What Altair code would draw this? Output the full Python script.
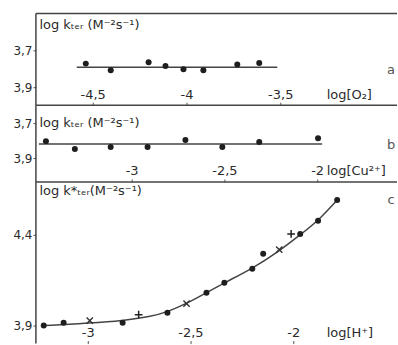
import altair as alt
import pandas as pd

FONT = "DejaVu Sans"
INK = "#2b2b2b"
FRAME = "#444"

# ---- panel a : log k_ter vs log[O2]
a_x = [-4.537, -4.404, -4.202, -4.112, -4.016, -3.910, -3.729, -3.612]
a_y = [3.772, 3.808, 3.765, 3.785, 3.803, 3.808, 3.777, 3.769]
a_fit_x = [-4.585, -3.516]
a_fit_y = [3.792, 3.792]

# ---- panel b : log k_ter vs log[Cu2+]
b_x = [-3.462, -3.306, -3.113, -2.914, -2.710, -2.511, -2.312, -1.995]
b_y = [3.803, 3.848, 3.837, 3.837, 3.797, 3.837, 3.808, 3.786]
b_fit_x = [-3.500, -1.973]
b_fit_y = [3.820, 3.820]

# ---- panel c : log k*_ter vs log[H+]
c_dot_x = [-3.214, -3.117, -2.830, -2.612, -2.422, -2.335, -2.199, -2.146, -1.966, -1.879, -1.786]
c_dot_y = [3.900, 3.916, 3.916, 3.971, 4.081, 4.136, 4.213, 4.296, 4.405, 4.477, 4.592]
c_cross_x = [-2.990, -2.519, -2.068]
c_cross_y = [3.927, 4.021, 4.318]
c_plus_x = [-2.752, -2.010]
c_plus_y = [3.960, 4.405]
c_fit_x = [-3.214, -2.985, -2.830, -2.694, -2.612, -2.519, -2.422, -2.335, -2.199, -2.068, -1.966, -1.879, -1.786]
c_fit_y = [3.900, 3.914, 3.927, 3.949, 3.975, 4.021, 4.081, 4.136, 4.214, 4.310, 4.400, 4.477, 4.592]

W = 363
COMMA = "replace(toString(datum.value), '.', ',')"


def xaxis(values, title):
    return alt.Axis(values=values, labelExpr=COMMA, orient="bottom", offset=-3,
                    domain=False, grid=False, ticks=True, tickSize=3, tickColor="#555",
                    labelBaseline="bottom", labelPadding=-4, labelFontSize=13,
                    labelColor=INK, labelFont=FONT,
                    title=title, titleX=291, titleY=-1, titleAngle=0, titleAlign="left",
                    titleBaseline="bottom", titleFontWeight="normal", titleFontSize=13,
                    titleColor=INK, titleFont=FONT)


def yaxis(values, title, ty):
    return alt.Axis(values=values, labelExpr=COMMA, orient="left",
                    domain=False, grid=False, ticks=True, tickSize=3, tickColor="#555",
                    labelPadding=1, labelFontSize=12, labelColor=INK, labelFont=FONT,
                    title=title, titleX=3, titleY=ty, titleAngle=0, titleAlign="left",
                    titleBaseline="alphabetic", titleFontWeight="normal", titleFontSize=13,
                    titleColor=INK, titleFont=FONT)


def panel(h, xdom, ydom, yrev, xax, yax, pts, fit, letter, ly, curve="linear"):
    xs = alt.Scale(domain=xdom, nice=False, zero=False)
    ys = alt.Scale(domain=ydom, nice=False, zero=False, reverse=yrev)
    fit_df = pd.DataFrame({"x": fit[0], "y": fit[1]})
    line = alt.Chart(fit_df).mark_line(color="#444", strokeWidth=1.5, interpolate=curve).encode(
        x=alt.X("x:Q", scale=xs, axis=xax), y=alt.Y("y:Q", scale=ys, axis=yax))
    layers = [line]
    for (px, py, kind) in pts:
        df = pd.DataFrame({"x": px, "y": py})
        if kind == "dot":
            m = alt.Chart(df).mark_point(shape="circle", filled=True, size=36, color="#1e1e1e", opacity=1)
        elif kind == "cross":
            m = alt.Chart(df).mark_point(shape="M-1,-1L1,1M1,-1L-1,1", filled=False, size=40,
                                         stroke="#333", strokeWidth=1.4, opacity=1)
        else:
            m = alt.Chart(df).mark_point(shape="M-1,0L1,0M0,-1L0,1", filled=False, size=60,
                                         stroke="#222", strokeWidth=1.5, opacity=1)
        layers.append(m.encode(x=alt.X("x:Q", scale=xs, axis=xax), y=alt.Y("y:Q", scale=ys, axis=yax)))
    one = pd.DataFrame({"t": [letter]})
    top_rule = alt.Chart(one).mark_rule(color=FRAME, strokeWidth=1.5).encode(
        x=alt.value(0), x2=alt.value(W - 1), y=alt.value(0))
    left_rule = alt.Chart(one).mark_rule(color=FRAME, strokeWidth=1.5).encode(
        x=alt.value(0), y=alt.value(0), y2=alt.value(h))
    lab = alt.Chart(one).mark_text(
        font=FONT, fontSize=13, color="#555", align="center", baseline="middle").encode(
        x=alt.value(356), y=alt.value(ly), text="t:N")
    layers += [top_rule, left_rule, lab]
    return alt.layer(*layers).properties(width=W, height=h)


pa = panel(92, [-4.803, -2.872], [3.5, 3.997], True,
           xaxis([-4.5, -4, -3.5], "log[O₂]"),
           yaxis([3.7, 3.9], "log kₜₑᵣ (M⁻²s⁻¹)", 15),
           [(a_x, a_y, "dot")], (a_fit_x, a_fit_y), "a", 57)

pb = panel(77, [-3.516, -1.564], [3.597, 4.037], True,
           xaxis([-3, -2.5, -2], "log[Cu²⁺]"),
           yaxis([3.7, 3.9], "log kₜₑᵣ (M⁻²s⁻¹)", 21),
           [(b_x, b_y, "dot")], (b_fit_x, b_fit_y), "b", 40)

pc = panel(162, [-3.252, -1.490], [3.801, 4.691], False,
           xaxis([-3, -2.5, -2], "log[H⁺]"),
           yaxis([3.9, 4.4], "log k*ₜₑᵣ(M⁻²s⁻¹)", 13),
           [(c_dot_x, c_dot_y, "dot"), (c_cross_x, c_cross_y, "cross"), (c_plus_x, c_plus_y, "plus")],
           (c_fit_x, c_fit_y), "c", 18, curve="basis")

chart = alt.vconcat(pa, pb, pc, spacing=0, bounds="flush").properties(
    padding={"left": 12, "top": 12, "right": 0, "bottom": 0},
    background="white",
).configure_view(stroke=None).configure_concat(spacing=0)

chart.save("out.html", embed_options={"renderer": "svg", "actions": False})
